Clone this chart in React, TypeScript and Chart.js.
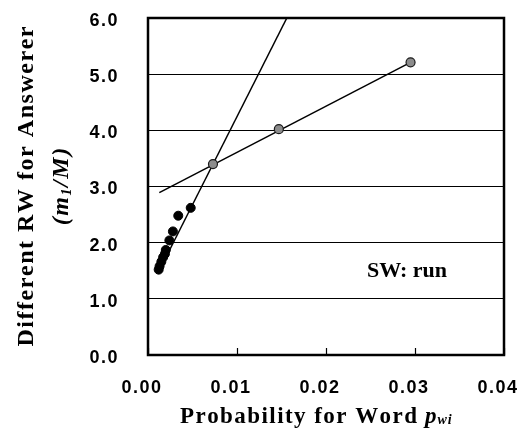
import React, { useEffect, useRef } from "react";
import { Chart, registerables } from "chart.js";

Chart.register(...registerables);

// ---- data ----
const blackX = [0.0048, 0.0034, 0.0028, 0.0024, 0.002, 0.0019, 0.0017, 0.0015, 0.0013, 0.0012];
const blackY = [2.62, 2.48, 2.2, 2.04, 1.87, 1.8, 1.74, 1.66, 1.58, 1.52];
const grayX = [0.0073, 0.0147, 0.0295];
const grayY = [3.4, 4.02, 5.21];
const steepX = [0.00125, 0.0156];
const steepY = [1.5, 6.0];
const shallowX = [0.00127, 0.0295];
const shallowY = [2.89, 5.21];
const xTickValues = [0, 0.01, 0.02, 0.03, 0.04];
const yTickValues = [0, 1, 2, 3, 4, 5, 6];
const annotationText = "SW: run";
const annotationAt = { x: 0.0246, y: 1.39 };
const yTitleMain = "Different RW for Answerer";
const xTitleMain = "Probability for Word";

const SERIF = '"Liberation Serif", "Times New Roman", serif';
const SANS = '"Liberation Sans", Arial, sans-serif';

const pts = (xs: number[], ys: number[]) => xs.map((x, i) => ({ x, y: ys[i] }));

type Run = { text: string; font: string; dy?: number };

function runsWidth(ctx: CanvasRenderingContext2D, runs: Run[], spacing: number) {
  let w = 0;
  let n = 0;
  runs.forEach((r) => {
    ctx.font = r.font;
    for (const ch of r.text) {
      w += ctx.measureText(ch).width;
      n++;
    }
  });
  return w + spacing * Math.max(0, n - 1);
}

function drawRuns(ctx: CanvasRenderingContext2D, runs: Run[], x: number, y: number, spacing: number) {
  let cx = x;
  runs.forEach((r) => {
    ctx.font = r.font;
    for (const ch of r.text) {
      ctx.fillText(ch, cx, y + (r.dy || 0));
      cx += ctx.measureText(ch).width + spacing;
    }
  });
}

const decorPlugin = {
  id: "decor",
  beforeDraw(chart: any) {
    const ctx = chart.ctx;
    ctx.save();
    ctx.fillStyle = "#fff";
    ctx.fillRect(0, 0, chart.width, chart.height);
    ctx.restore();
    if ("letterSpacing" in ctx) (ctx as any).letterSpacing = "1.5px";
  },
  beforeDatasetsDraw(chart: any) {
    const ctx = chart.ctx;
    const { left, right, top, bottom } = chart.chartArea;
    const xs = chart.scales.x;
    ctx.save();
    ctx.strokeStyle = "#000";
    ctx.lineWidth = 1.2;
    xTickValues.forEach((v) => {
      const px = Math.round(xs.getPixelForValue(v)) + 0.5;
      ctx.beginPath();
      ctx.moveTo(px, bottom);
      ctx.lineTo(px, bottom - 7);
      ctx.stroke();
    });
    ctx.lineWidth = 2.5;
    ctx.strokeRect(left, top, right - left, bottom - top);
    ctx.restore();
  },
  afterDraw(chart: any) {
    const ctx = chart.ctx;
    const { left, top, bottom } = chart.chartArea;
    ctx.save();
    if ("letterSpacing" in ctx) (ctx as any).letterSpacing = "0px";
    ctx.fillStyle = "#000";
    ctx.textBaseline = "alphabetic";
    ctx.textAlign = "left";

    // annotation
    ctx.font = `bold 22px ${SERIF}`;
    ctx.fillText(
      annotationText,
      chart.scales.x.getPixelForValue(annotationAt.x),
      chart.scales.y.getPixelForValue(annotationAt.y)
    );

    // y title (rotated)
    const fMain = `bold 24px ${SERIF}`;
    const fIt = `italic bold 24px ${SERIF}`;
    const fSub = `italic bold 14px ${SERIF}`;
    const line1: Run[] = [{ text: yTitleMain, font: fMain }];
    const nat1 = runsWidth(ctx, line1, 0);
    const sp1 = Math.max(0, (320 - nat1) / (yTitleMain.length - 1));
    const line2: Run[] = [
      { text: "(", font: fIt },
      { text: "m", font: fIt },
      { text: "1", font: fSub, dy: 3 },
      { text: "/M)", font: fIt },
    ];
    const cy = (top + bottom) / 2;
    ctx.save();
    ctx.translate(0, cy);
    ctx.rotate(-Math.PI / 2);
    const w1 = runsWidth(ctx, line1, sp1);
    drawRuns(ctx, line1, -w1 / 2, 33, sp1);
    const w2 = runsWidth(ctx, line2, sp1);
    drawRuns(ctx, line2, -w2 / 2, 68, sp1);
    ctx.restore();

    // x title
    const fX = `bold 23px ${SERIF}`;
    const fXIt = `italic bold 23px ${SERIF}`;
    const fXSub = `italic bold 14px ${SERIF}`;
    const xr: Run[] = [{ text: xTitleMain, font: fX }];
    const natX = runsWidth(ctx, xr, 0);
    const spX = Math.max(0, (237 - natX) / (xTitleMain.length - 1));
    const xStart = left + 32;
    drawRuns(ctx, xr, xStart, 423, spX);
    const after = xStart + runsWidth(ctx, xr, spX) + 8;
    drawRuns(
      ctx,
      [
        { text: "p", font: fXIt },
        { text: "wi", font: fXSub, dy: 1 },
      ],
      after,
      423,
      1
    );
    ctx.restore();
  },
};

export default function App() {
  const ref = useRef<HTMLCanvasElement>(null);
  useEffect(() => {
    if (!ref.current) return;
    const tickFont = { family: SANS, size: 18, weight: "bold" as const };
    const chart = new Chart(ref.current, {
      type: "scatter",
      data: {
        datasets: [
          {
            data: pts(grayX, grayY),
            pointRadius: 4.5,
            backgroundColor: "#8c8c8c",
            borderColor: "#1a1a1a",
            borderWidth: 1.2,
          },
          {
            data: pts(blackX, blackY),
            pointRadius: 4.5,
            backgroundColor: "#000",
            borderColor: "#000",
            borderWidth: 1,
          },
          {
            data: pts(steepX, steepY),
            showLine: true,
            borderColor: "#000",
            borderWidth: 1.5,
            pointRadius: 0,
          },
          {
            data: pts(shallowX, shallowY),
            showLine: true,
            borderColor: "#000",
            borderWidth: 1.5,
            pointRadius: 0,
          },
        ],
      },
      options: {
        responsive: false,
        animation: false,
        events: [],
        layout: { padding: { left: 0, top: 18, right: 16, bottom: 0 } },
        plugins: { legend: { display: false }, tooltip: { enabled: false } },
        scales: {
          x: {
            type: "linear",
            min: 0,
            max: 0.04,
            afterBuildTicks: (s: any) => {
              s.ticks = xTickValues.map((v) => ({ value: v }));
            },
            afterFit: (s: any) => {
              s.height = 86;
              s.paddingLeft = 0;
              s.paddingRight = 0;
              s.paddingTop = 0;
              s.paddingBottom = 0;
            },
            grid: { display: false, drawTicks: false },
            border: { display: false },
            ticks: {
              font: tickFont,
              color: "#000",
              padding: 22,
              labelOffset: -6,
              maxRotation: 0,
              autoSkip: false,
              callback: (v: any) => Number(v).toFixed(2),
            },
          },
          y: {
            type: "linear",
            min: 0,
            max: 6,
            afterBuildTicks: (s: any) => {
              s.ticks = yTickValues.map((v) => ({ value: v }));
            },
            afterFit: (s: any) => {
              s.width = 148;
              s.paddingLeft = 0;
              s.paddingRight = 0;
              s.paddingTop = 0;
              s.paddingBottom = 0;
            },
            grid: { color: "#000", lineWidth: 1, drawTicks: false },
            border: { display: false },
            ticks: {
              font: tickFont,
              color: "#000",
              padding: 29,
              labelOffset: 3,
              autoSkip: false,
              callback: (v: any) => Number(v).toFixed(1),
            },
          },
        },
      },
      plugins: [decorPlugin],
    } as any);
    return () => chart.destroy();
  }, []);
  return (
    <div style={{ position: "absolute", left: 0, top: 0, width: 520, height: 441, background: "#fff" }}>
      <canvas ref={ref} width={520} height={441} style={{ display: "block", width: 520, height: 441 }} />
    </div>
  );
}
